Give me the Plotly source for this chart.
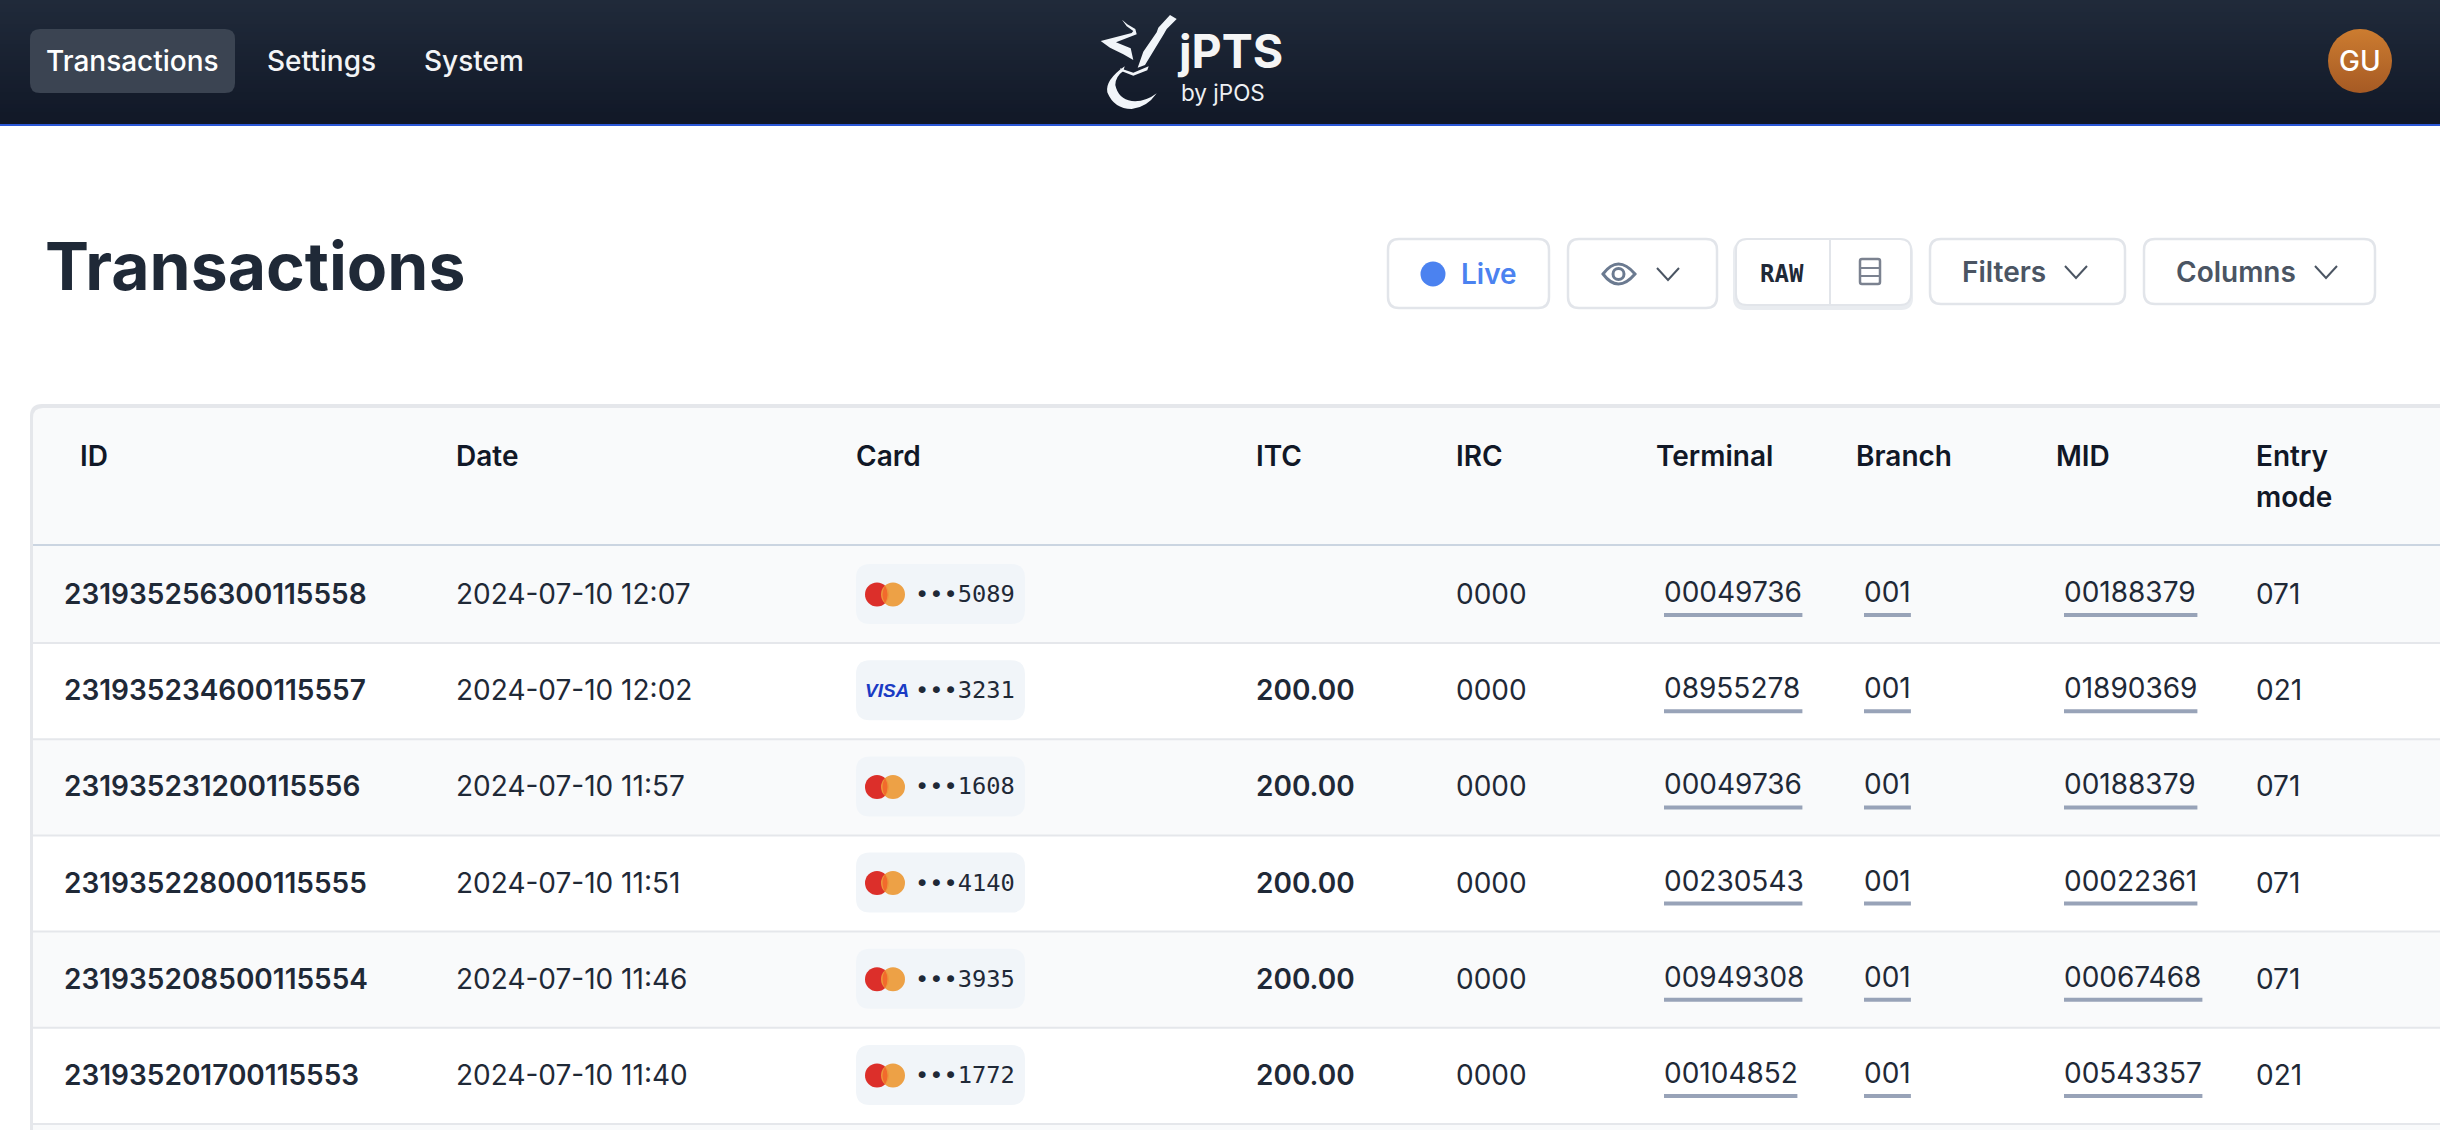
import plotly.graph_objects as go

# table rows
ids = ["231935256300115558", "231935234600115557", "231935231200115556",
       "231935228000115555", "231935208500115554", "231935201700115553"]
dates = ["2024-07-10 12:07", "2024-07-10 12:02", "2024-07-10 11:57",
         "2024-07-10 11:51", "2024-07-10 11:46", "2024-07-10 11:40"]
brands = ["mc", "visa", "mc", "mc", "mc", "mc"]
cards = ["•••5089", "•••3231", "•••1608", "•••4140", "•••3935", "•••1772"]
itc = ["", "200.00", "200.00", "200.00", "200.00", "200.00"]
irc = ["0000", "0000", "0000", "0000", "0000", "0000"]
terminals = ["00049736", "08955278", "00049736", "00230543", "00949308", "00104852"]
branches = ["001", "001", "001", "001", "001", "001"]
mids = ["00188379", "01890369", "00188379", "00022361", "00067468", "00543357"]
entry_modes = ["071", "021", "071", "071", "071", "021"]

headers = ["ID", "Date", "Card", "ITC", "IRC", "Terminal", "Branch", "MID", "Entry<br>mode"]
header_x = [81, 457, 857, 1257, 1457, 1657, 1857, 2057, 2257]

W, H = 2440, 1130
ROW_H = 96.2
HEAD_LINE = 545
FIRST_LINE = 643
FONT = "Inter"
DARK = "#1f2937"

row_y = [594 + i * ROW_H for i in range(len(ids))]

shapes = []
annotations = []


def rrect(x0, y0, x1, y1, r, fill, line=None, width=0):
    path = (f"M{x0+r},{y0} L{x1-r},{y0} Q{x1},{y0} {x1},{y0+r} L{x1},{y1-r} Q{x1},{y1} {x1-r},{y1} "
            f"L{x0+r},{y1} Q{x0},{y1} {x0},{y1-r} L{x0},{y0+r} Q{x0},{y0} {x0+r},{y0} Z")
    shapes.append(dict(type="path", path=path, fillcolor=fill, layer="below",
                       line=dict(color=line or fill, width=width)))


def rect(x0, y0, x1, y1, fill):
    shapes.append(dict(type="rect", x0=x0, y0=y0, x1=x1, y1=y1, fillcolor=fill,
                       line=dict(width=0), layer="below"))


def circle(cx, cy, r, fill, opacity=1):
    shapes.append(dict(type="circle", x0=cx - r, y0=cy - r, x1=cx + r, y1=cy + r, fillcolor=fill,
                       opacity=opacity, line=dict(width=0), layer="below"))


def poly(points, color, close=True, width=0, fill=True):
    # logo and icon outlines
    path = "M" + " L".join(f"{x},{y}" for x, y in points) + (" Z" if close else "")
    shapes.append(dict(type="path", path=path, fillcolor=color if fill else "rgba(0,0,0,0)",
                       line=dict(color=color, width=width), layer="below"))


def label(x, y, text, size, color, weight=400, family=FONT, anchor="left"):
    # annotations sit about 3px right of their x
    annotations.append(dict(x=x - 3 if anchor == "left" else x, y=y, text=text, xanchor=anchor, yanchor="middle",
                            showarrow=False, xref="x", yref="y", align="left",
                            font=dict(family=family, size=size, color=color, weight=weight)))


def chevron(cx, cy, color="#4b5563"):
    poly([(cx - 11, cy - 6), (cx, cy + 6), (cx + 11, cy - 6)], color, close=False, width=2, fill=False)


# top bar, bands fake the vertical gradient
top = (32, 42, 58)
bottom = (17, 24, 39)
bands = 31
for i in range(bands):
    t = i / (bands - 1)
    c = [round(a + (b - a) * t) for a, b in zip(top, bottom)]
    rect(0, i * 4, W, 124, f"rgb({c[0]},{c[1]},{c[2]})")
rect(0, 124, W, 126, "#2b57d6")

rrect(30, 29, 235, 93, 10, "#3b4452")
label(47, 61, "Transactions", 28, "#ffffff", 500)
label(268, 61, "Settings", 28, "#f3f4f6", 500)
label(425, 61, "System", 28, "#f3f4f6", 500)


def lx(x):
    return round(1090 + x / 3, 1)


def ly(y):
    return round(5 + y / 3, 1)


def logo(pts):
    return [(lx(x), ly(y)) for x, y in pts]


LOGO = "#f1f5f9"
poly(logo([(240, 30), (260, 42), (230, 72), (222, 86), (165, 180), (143, 188), (160, 140), (200, 82), (205, 68)]), LOGO)
shapes.append(dict(type="path", fillcolor=LOGO, line=dict(width=0), layer="below", path=(
    f"M{lx(104)},{ly(184)} Q{lx(45)},{ly(225)} {lx(52)},{ly(262)} Q{lx(72)},{ly(312)} {lx(125)},{ly(312)} "
    f"Q{lx(170)},{ly(308)} {lx(200)},{ly(265)} Q{lx(165)},{ly(292)} {lx(125)},{ly(288)} "
    f"Q{lx(85)},{ly(282)} {lx(76)},{ly(240)} Q{lx(76)},{ly(215)} {lx(100)},{ly(198)} Z")))
poly(logo([(90, 190), (130, 203), (176, 184), (172, 196), (130, 212), (94, 198)]), LOGO)
poly(logo([(32, 108), (125, 84), (130, 78), (110, 64), (96, 44), (112, 58), (136, 72), (140, 88),
           (78, 112), (122, 130), (130, 165), (100, 148), (60, 128)]), LOGO)
label(1178, 51, "<b>jPTS</b>", 46.5, "#f5f5f5", 700)
label(1182, 92, "by jPOS", 22.5, "#eef0f3", 400)

label(2360, 61, "GU", 28, "#ffffff", 500, anchor="center")

label(46, 266, "Transactions", 66, DARK, 700)

# toolbar
BORDER = "#e2e5ea"
for x0, x1 in [(1388, 1549), (1568, 1717)]:
    rrect(x0, 239, x1, 308, 11, "#ffffff", BORDER, 2.5)
rrect(1733, 241, 1913, 310, 12, "#e9ecf0")
rrect(1736, 239, 1911, 305, 11, "#ffffff", BORDER, 2)
rect(1829, 240, 1831, 304, BORDER)
for x0, x1 in [(1930, 2125), (2144, 2375)]:
    rrect(x0, 239, x1, 304, 11, "#ffffff", BORDER, 2.5)

circle(1433, 274, 12.5, "#4b82f0")
label(1462, 274, "Live", 28, "#4b82f0", 600)
shapes.append(dict(type="path", layer="below", fillcolor="rgba(0,0,0,0)", line=dict(color="#6b7a90", width=3),
                   path="M1603,274 Q1618,254 1635,274 Q1618,294 1603,274 Z"))
shapes.append(dict(type="circle", layer="below", x0=1613, y0=268.5, x1=1624, y1=279.5,
                   fillcolor="rgba(0,0,0,0)", line=dict(color="#6b7a90", width=3)))
chevron(1668, 274)
label(1761, 274, "RAW", 24, DARK, 700, family="DejaVu Sans Mono")
rrect(1860, 259, 1880, 284, 2, "#ffffff", "#7b8290", 2.5)
rect(1860, 267, 1880, 269, "#7b8290")
rect(1860, 275, 1880, 277, "#7b8290")
label(1963, 272, "Filters", 28, "#4b5563", 600)
chevron(2076, 272)
label(2177, 272, "Columns", 28, "#4b5563", 600)
chevron(2326, 272)

# table background
rrect(30, 404, W + 30, H + 30, 12, "#e5e7eb")
rrect(33, 408, W + 30, H + 30, 10, "#f9fafb")
for i in range(len(ids) + 1):
    y0 = HEAD_LINE if i == 0 else FIRST_LINE + (i - 1) * ROW_H
    y1 = FIRST_LINE + i * ROW_H
    rect(33, y0, W, y1, "#f9fafb" if i % 2 == 0 else "#ffffff")
    rect(33, y0 - 1, W, y0 + 1, "#cbd5e1" if i == 0 else "#e5e7eb")

for hx, text in zip(header_x, headers):
    for j, part in enumerate(text.split("<br>")):
        label(hx, 456 + j * 41, part, 28, "#111827", 600)

# card pills
for y, brand in zip(row_y, brands):
    rrect(856, y - 30, 1025, y + 30, 14, "#f1f5f9")
    if brand == "mc":
        circle(877, y + 0.5, 12, "#dc2f2a")
        circle(893, y + 0.5, 12, "#ec9c3c", 0.95)
        shapes.append(dict(type="path", layer="below", fillcolor="#f26a2c", line=dict(width=0),
                           path=f"M885,{y-8.5} Q880,{y+0.5} 885,{y+9.5} Q890,{y+0.5} 885,{y-8.5} Z"))


def text_trace(x, ys, text, size=28, weight=400, color=DARK, family=FONT):
    return go.Scatter(x=[x] * len(ys), y=ys, text=text, mode="text", textposition="middle right",
                      textfont=dict(family=family, size=size, color=color, weight=weight),
                      hoverinfo="skip", showlegend=False)


def text_width(s):
    # inter digits, the 1 is narrower
    return len(s) * 17.3 - 5 * s.count("1")


def underlines(x, values):
    xs, ys = [], []
    for v, y in zip(values, row_y):
        xs += [x, x + text_width(v), None]
        ys += [y + 21, y + 21, None]
    return go.Scatter(x=xs, y=ys, mode="lines", line=dict(color="#98a3b8", width=4),
                      hoverinfo="skip", showlegend=False)


cell_y = [y + 3 for y in row_y]
card_y = [y + 2 for y in row_y]
link_y = [y + 1 for y in row_y]
visa_y = [y + 2 for y, b in zip(row_y, brands) if b == "visa"]
traces = [
    go.Scatter(x=[2360], y=[61], mode="markers", hoverinfo="skip", showlegend=False,
               marker=dict(size=64, color="#cc7c30", line=dict(width=0),
                           gradient=dict(type="vertical", color="#a65a24"))),
    text_trace(64, cell_y, ids, weight=600),
    text_trace(456, cell_y, dates),
    text_trace(915, card_y, cards, size=23.7, family="DejaVu Sans Mono"),
    text_trace(865, visa_y, ["<b><i>VISA</i></b>"] * len(visa_y), size=19, color="#1a3bc4", family="Liberation Sans"),
    text_trace(1256, cell_y, itc, weight=600),
    text_trace(1456, cell_y, irc),
    text_trace(1664, link_y, terminals),
    text_trace(1864, link_y, branches),
    text_trace(2064, link_y, mids),
    text_trace(2256, cell_y, entry_modes),
    underlines(1664, terminals),
    underlines(1864, branches),
    underlines(2064, mids),
]

fig = go.Figure(traces)
fig.update_layout(width=W, height=H, margin=dict(l=0, r=0, t=0, b=0), paper_bgcolor="#ffffff",
                  plot_bgcolor="#ffffff", shapes=shapes, annotations=annotations, showlegend=False)
fig.update_xaxes(range=[0, W], visible=False, fixedrange=True)
fig.update_yaxes(range=[H, 0], visible=False, fixedrange=True)
fig.write_html("out.html", config={"displayModeBar": False},
               post_script="document.body.style.margin='0';document.body.style.overflow='hidden';")
